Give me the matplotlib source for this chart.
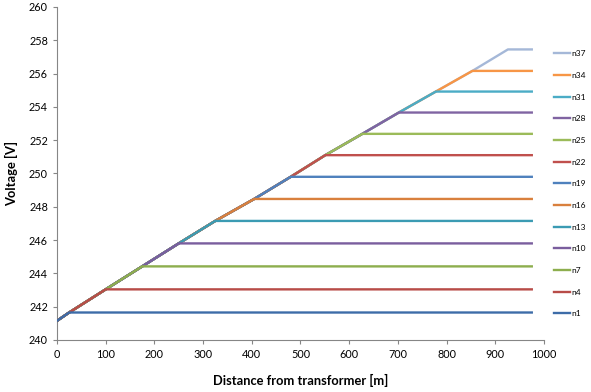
import matplotlib.pyplot as plt

# node distance [m] where each series stops rising, and the voltage it holds
node_names = ["n1", "n4", "n7", "n10", "n13", "n16", "n19",
              "n22", "n25", "n28", "n31", "n34", "n37"]
node_dist = [25, 100, 175, 250, 325, 405, 480, 551, 627, 702, 778, 853, 926]
node_volt = [241.65, 243.04, 244.42, 245.80, 247.15, 248.47, 249.80,
             251.10, 252.38, 253.66, 254.92, 256.16, 257.45]
start_volt = 241.15
end_dist = 975

COLORS = ["#3d6ca8", "#b84c48", "#8dae4e", "#7a5e9e", "#3b9bb3", "#d9803d",
          "#4f81bd", "#c0504d", "#9bbb59", "#8064a2", "#4bacc6", "#f79646",
          "#a5b8d8"]

plt.rcParams['font.family'] = ['Lato', 'DejaVu Sans']

fig = plt.figure(figsize=(5.91, 3.92), dpi=100)
ax = fig.add_axes([0.0964, 0.1327, 0.824, 0.8495])

handles = []
for i, name in enumerate(node_names):
    xs = [0] + node_dist[:i + 1] + [end_dist]
    ys = [start_volt] + node_volt[:i + 1] + [node_volt[i]]
    ln, = ax.plot(xs, ys, color=COLORS[i], lw=1.7, label=name, zorder=20 - i)
    handles.append(ln)

ax.set_xlim(0, 1000)
ax.set_ylim(240, 260)
ax.set_xticks(range(0, 1001, 100))
ax.set_yticks(range(240, 261, 2))

for side in ["top", "right"]:
    ax.spines[side].set_visible(False)
for side in ["left", "bottom"]:
    ax.spines[side].set_color("#868686")
    ax.spines[side].set_linewidth(0.8)
ax.tick_params(colors="#868686", labelcolor="black", labelsize=7.8,
               length=3, width=0.8)

ax.set_xlabel("Distance from transformer [m]", fontsize=9.3, fontweight="bold",
              labelpad=10)
ax.set_ylabel("Voltage [V]", fontsize=9.3, fontweight="bold", labelpad=8)

ax.legend(handles[::-1], [h.get_label() for h in handles[::-1]],
          loc="upper left", bbox_to_anchor=(1.013, 0.880), frameon=False,
          fontsize=6.0, labelspacing=1.76, handlelength=2.0, handletextpad=0.15,
          borderaxespad=0)

fig.savefig("out.png", dpi=100)
